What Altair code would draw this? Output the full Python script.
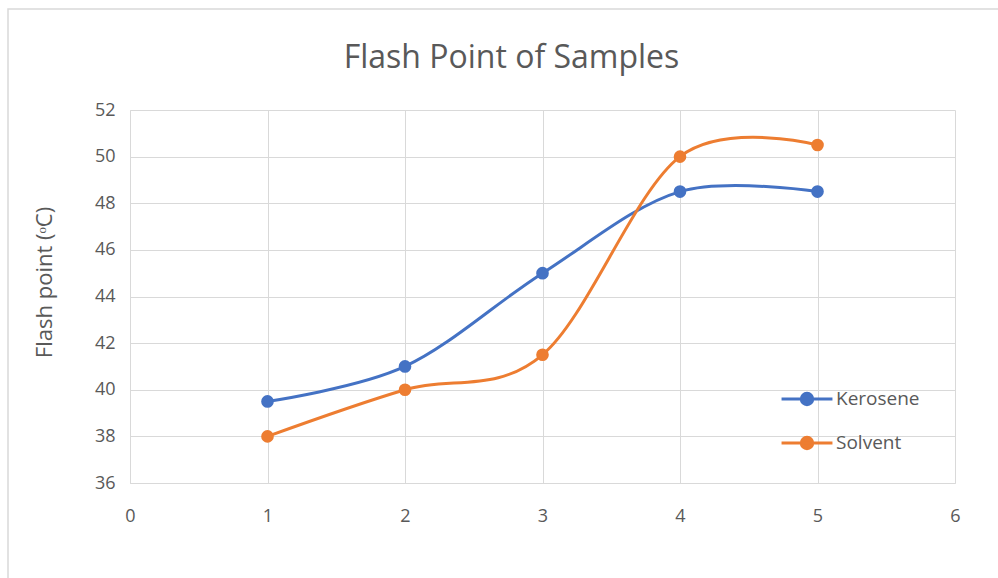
import altair as alt
import pandas as pd

samples = [1, 2, 3, 4, 5]
kerosene = [39.5, 41, 45, 48.5, 48.5]
solvent = [38, 40, 41.5, 50, 50.5]
series = ["Kerosene", "Solvent"]
colors = ["#4472C4", "#ED7D31"]

df = pd.DataFrame({
    "Sample": samples * 2,
    "Flash": kerosene + solvent,
    "Series": [series[0]] * len(samples) + [series[1]] * len(samples),
})

FONT = "Open Sans"
TXT = "#595959"
GRID = "#D9D9D9"

sym = "M-1.2,0 L1.2,0 M-0.27,0 A0.27,0.27 0 1,1 0.27,0 A0.27,0.27 0 1,1 -0.27,0 Z"

color = alt.Color(
    "Series:N",
    scale=alt.Scale(domain=series, range=colors),
    legend=alt.Legend(
        title=None, orient="none", legendX=654, legendY=266,
        symbolType=sym, symbolSize=1800, symbolStrokeWidth=3,
        labelFont=FONT, labelFontSize=19, labelColor=TXT, labelOffset=6,
        rowPadding=9, padding=0,
    ),
)

x = alt.X("Sample:Q", scale=alt.Scale(domain=[0, 6], nice=False),
          axis=alt.Axis(values=[0, 1, 2, 3, 4, 5, 6], title=None, labelPadding=24,
                        labelFlush=False, labelBound=False,
                        domainColor=GRID, gridColor=GRID, ticks=False, grid=True))
y = alt.Y("Flash:Q", scale=alt.Scale(domain=[36, 52], nice=False, zero=False),
          axis=alt.Axis(values=list(range(36, 53, 2)), title="Flash point (ᵒC)",
                        labelPadding=15, domainColor=GRID, gridColor=GRID, ticks=False,
                        titlePadding=38, titleY=172, grid=True))

# chart-area frame (decoration, like the spreadsheet's chart border)
frame = alt.Chart(pd.DataFrame({"f": [0]})).mark_rect(
    fill=None, stroke="#D9D9D9", strokeWidth=1.5
).encode(x=alt.value(-122), x2=alt.value(900), y=alt.value(-101), y2=alt.value(500))

base = alt.Chart(df)
lines = base.mark_line(interpolate="cardinal", tension=0, strokeWidth=3).encode(x=x, y=y, color=color)
points = base.mark_point(filled=True, size=160, opacity=1).encode(x=x, y=y, color=color)

chart = alt.layer(frame, lines, points).properties(
    width=825, height=373,
    title=alt.TitleParams("Flash Point of Samples", font=FONT, fontSize=32, color=TXT,
                          fontWeight="normal", anchor="middle", frame="group",
                          dx=-31, offset=-67),
    padding={"left": 130, "top": 110, "right": 43, "bottom": 95},
    autosize=alt.AutoSizeParams(type="none"),
).configure_view(stroke=None).configure_axis(
    labelFont=FONT, labelFontSize=18, labelColor=TXT,
    titleFont=FONT, titleFontSize=22, titleColor=TXT, titleFontWeight="normal",
)

chart.save("out.html", embed_options={"renderer": "svg", "actions": False})
